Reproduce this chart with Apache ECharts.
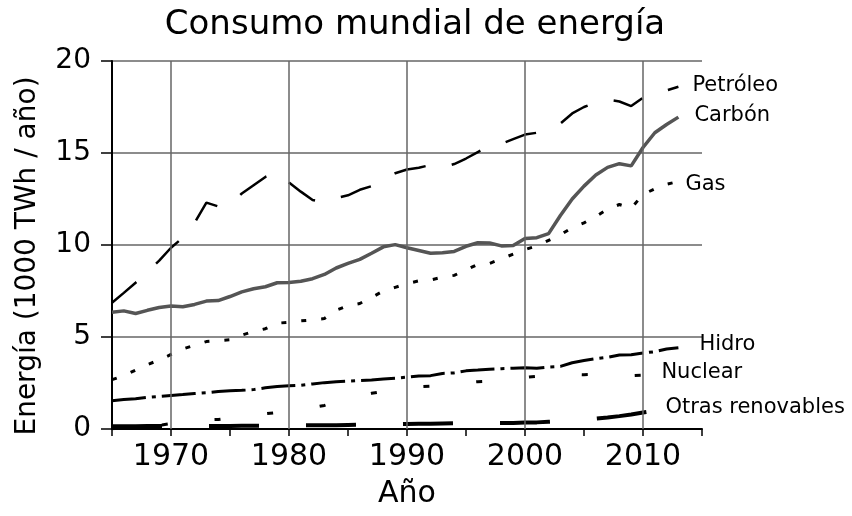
<!DOCTYPE html>
<html>
<head>
<meta charset="utf-8">
<script src="https://cdn.jsdelivr.net/npm/echarts@6/dist/echarts.min.js"></script>
<style>
  html, body { margin: 0; padding: 0; background: #fff; }
  #chart { width: 852px; height: 516px; }
</style>
</head>
<body>
<div id="chart"></div>
<script>
// años 1965 - 2013
const years = [];
for (let y = 1965; y <= 2013; y++) years.push(y);

const decadas = [1970, 1980, 1990, 2000, 2010];

const petroleo = [6.86, 7.4, 7.95, 8.55, 9.15, 9.85, 10.4, 11.2, 12.3, 12.1,
  12.2, 12.8, 13.25, 13.7, 13.95, 13.4, 12.9, 12.45, 12.3, 12.55,
  12.7, 13.0, 13.2, 13.6, 13.9, 14.1, 14.2, 14.35, 14.2, 14.4,
  14.7, 15.05, 15.4, 15.5, 15.75, 16.0, 16.1, 16.3, 16.6, 17.15,
  17.5, 17.75, 17.9, 17.8, 17.55, 18.0, 18.2, 18.4, 18.6];

const carbon = [6.35, 6.42, 6.28, 6.45, 6.6, 6.68, 6.64, 6.77, 6.95, 6.98,
  7.2, 7.45, 7.62, 7.73, 7.95, 7.96, 8.03, 8.17, 8.4, 8.75,
  9.0, 9.22, 9.55, 9.9, 10.02, 9.85, 9.7, 9.55, 9.58, 9.65,
  9.93, 10.12, 10.11, 9.95, 9.97, 10.35, 10.4, 10.62, 11.6, 12.5,
  13.2, 13.8, 14.22, 14.42, 14.3, 15.3, 16.1, 16.55, 16.95];

const gas = [2.68, 2.9, 3.2, 3.5, 3.75, 4.05, 4.35, 4.55, 4.75, 4.8,
  4.85, 5.1, 5.3, 5.45, 5.75, 5.8, 5.88, 5.93, 6.0, 6.45,
  6.7, 6.82, 7.15, 7.5, 7.7, 7.9, 8.05, 8.1, 8.25, 8.35,
  8.65, 8.95, 9.0, 9.25, 9.5, 9.75, 9.95, 10.25, 10.55, 10.95,
  11.2, 11.55, 11.95, 12.2, 12.0, 12.75, 13.05, 13.3, 13.45];

const hidro = [1.54, 1.6, 1.65, 1.72, 1.77, 1.82, 1.87, 1.93, 1.97, 2.04,
  2.08, 2.1, 2.14, 2.24, 2.31, 2.35, 2.38, 2.45, 2.52, 2.57,
  2.6, 2.63, 2.66, 2.72, 2.76, 2.82, 2.88, 2.9, 3.02, 3.05,
  3.16, 3.2, 3.25, 3.28, 3.3, 3.33, 3.3, 3.37, 3.4, 3.6,
  3.72, 3.82, 3.9, 4.02, 4.04, 4.13, 4.2, 4.35, 4.42];

const nuclear = [0.02, 0.04, 0.07, 0.12, 0.2, 0.3, 0.36, 0.43, 0.5, 0.52,
  0.6, 0.66, 0.75, 0.83, 0.9, 0.97, 1.07, 1.16, 1.28, 1.5,
  1.7, 1.8, 1.94, 2.05, 2.15, 2.2, 2.3, 2.33, 2.4, 2.45,
  2.52, 2.57, 2.6, 2.66, 2.75, 2.8, 2.86, 2.9, 2.88, 2.97,
  2.95, 2.97, 2.92, 2.9, 2.9, 2.93, 2.8, 2.55, 2.6];

const otras = [0.15, 0.15, 0.15, 0.16, 0.16, 0.16, 0.16, 0.16, 0.16, 0.16,
  0.16, 0.17, 0.17, 0.18, 0.18, 0.19, 0.2, 0.2, 0.21, 0.21,
  0.22, 0.23, 0.24, 0.25, 0.26, 0.27, 0.28, 0.29, 0.3, 0.31,
  0.31, 0.32, 0.32, 0.32, 0.33, 0.35, 0.36, 0.39, 0.42, 0.47,
  0.52, 0.56, 0.62, 0.7, 0.79, 0.9, 1.0, 1.12, 1.25];

const FONT = 'DejaVu Sans';

const pairs = arr => years.map((y, i) => [y, arr[i]]);

function linea(name, data, style, labelOffset) {
  return {
    name: name,
    type: 'line',
    data: pairs(data),
    symbol: 'none',
    z: 3,
    lineStyle: Object.assign({ color: '#000' }, style),
    endLabel: {
      show: true,
      formatter: name,
      color: '#000',
      fontFamily: FONT,
      fontSize: 21,
      offset: labelOffset
    },
    emphasis: { disabled: true }
  };
}

const chart = echarts.init(document.getElementById('chart'));

chart.setOption({
  animation: false,
  backgroundColor: '#fff',
  title: {
    text: 'Consumo mundial de energía',
    left: 410,
    textAlign: 'center',
    top: 3,
    textStyle: { fontFamily: FONT, fontSize: 34, fontWeight: 'normal', color: '#000' }
  },
  grid: { left: 112, right: 150, top: 61, bottom: 87, containLabel: false },
  xAxis: {
    type: 'value',
    min: 1965,
    max: 2015,
    interval: 5,
    name: 'Año',
    nameLocation: 'middle',
    nameGap: 50,
    nameTextStyle: { fontFamily: FONT, fontSize: 30, color: '#000' },
    axisLine: { lineStyle: { color: '#000', width: 2 } },
    axisTick: { show: true, length: 7, lineStyle: { color: '#000', width: 1.5 } },
    axisLabel: {
      margin: 13,
      fontFamily: FONT,
      fontSize: 30,
      color: '#000',
      formatter: v => (v % 10 === 0 ? String(v) : '')
    },
    splitLine: { show: false }
  },
  yAxis: {
    type: 'value',
    min: 0,
    max: 20,
    interval: 5,
    name: 'Energía (1000 TWh / año)',
    nameLocation: 'middle',
    nameGap: 70,
    nameTextStyle: { fontFamily: FONT, fontSize: 28, color: '#000', padding: [0, 22, 0, 0] },
    axisLine: { show: true, lineStyle: { color: '#000', width: 2 } },
    axisTick: { show: true, length: 11, lineStyle: { color: '#000', width: 1.5 } },
    axisLabel: { margin: 21, fontFamily: FONT, fontSize: 28, color: '#000' },
    splitLine: { show: true, lineStyle: { color: '#666', width: 1.5 } }
  },
  series: [
    {
      name: 'rejilla',
      type: 'line',
      data: [],
      z: 1,
      markLine: {
        silent: true,
        symbol: ['none', 'none'],
        label: { show: false },
        lineStyle: { color: '#666', width: 1.5, type: 'solid' },
        data: decadas.map(d => ({ xAxis: d }))
      }
    },
    linea('Petróleo', petroleo, { width: 2.5, type: [32, 27] }, [6, -1]),
    linea('Carbón', carbon, { width: 3.5, color: '#555', type: 'solid' }, [8, -2]),
    linea('Gas', gas, { width: 3, type: [5, 15] }, [-1, 3]),
    linea('Hidro', hidro, { width: 3, type: [34, 6, 4, 6] }, [13, -3]),
    linea('Nuclear', nuclear, { width: 3, type: [6, 47], dashOffset: 3 }, [-25, -9]),
    linea('Otras renovables', otras, { width: 4, type: [50, 47] }, [-21, 2])
  ]
});
</script>
</body>
</html>
